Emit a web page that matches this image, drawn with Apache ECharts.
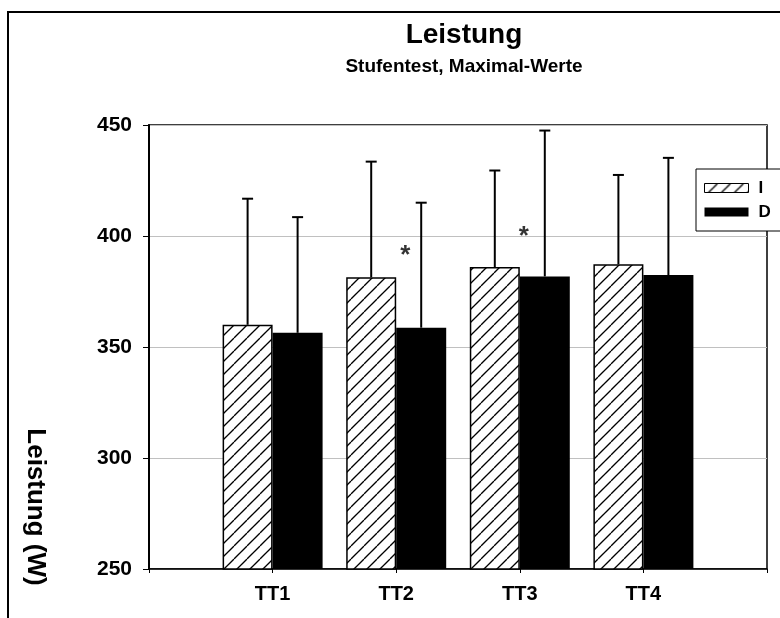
<!DOCTYPE html>
<html>
<head>
<meta charset="utf-8">
<script src="https://cdn.jsdelivr.net/npm/echarts@6/dist/echarts.min.js"></script>
<style>
html,body{margin:0;padding:0;background:#fff;}
#chart{width:780px;height:618px;}
</style>
</head>
<body>
<div id="chart"></div>
<script>
// ---- data ----
const categories = ['TT1', 'TT2', 'TT3', 'TT4'];
const seriesNames = ['I', 'D'];
const valuesI = [360, 381.4, 386, 387.3];
const valuesD = [356.4, 358.7, 381.8, 382.4];
const errTopI = [416.8, 433.5, 429.5, 427.5];
const errTopD = [408.5, 415, 447.5, 435.2];
const yTicks = [250, 300, 350, 400, 450];
const asteriskCats = ['TT2', 'TT3'];
const asteriskVals = [393, 401.5];

// ---- build ----
const FONT = '"Liberation Sans", Arial, sans-serif';
const xCats = [''].concat(categories, ['']);
const pad = arr => [null].concat(arr, [null]);
const BW = 50;
const starOffsets = [[9, 4], [4, 4]];

function hatch() {
  const s = 13;
  const c = document.createElement('canvas');
  c.width = s; c.height = s;
  const g = c.getContext('2d');
  g.fillStyle = '#fff'; g.fillRect(0, 0, s, s);
  g.strokeStyle = '#000'; g.lineWidth = 1.3;
  for (const k of [-s, 0, s]) {
    g.beginPath(); g.moveTo(k, s); g.lineTo(k + s, 0); g.stroke();
  }
  return c;
}
const hatchPattern = { image: hatch(), repeat: 'repeat' };

function errData(vals, tops) {
  return categories.map((c, i) => [i + 1, vals[i], tops[i]]);
}
function errSeries(name, vals, tops, off) {
  return {
    type: 'custom', name: name + '_err', silent: true, z: 5,
    data: errData(vals, tops),
    renderItem: function (params, api) {
      const base = api.coord([api.value(0), api.value(1)]);
      const top = api.coord([api.value(0), api.value(2)]);
      const x = base[0] + off;
      return {
        type: 'group', children: [
          { type: 'line', shape: { x1: x, y1: base[1], x2: x, y2: top[1] }, style: { stroke: '#000', lineWidth: 2 } },
          { type: 'line', shape: { x1: x - 5.5, y1: top[1], x2: x + 5.5, y2: top[1] }, style: { stroke: '#000', lineWidth: 2 } }
        ]
      };
    }
  };
}

const chart = echarts.init(document.getElementById('chart'), null, { renderer: 'canvas' });
chart.setOption({
  animation: false,
  backgroundColor: '#fff',
  title: {
    text: 'Leistung',
    subtext: 'Stufentest, Maximal-Werte',
    left: 459, top: 16, textAlign: 'center', itemGap: 8,
    textStyle: { fontFamily: FONT, fontWeight: 'bold', fontSize: 28, color: '#000' },
    subtextStyle: { fontFamily: FONT, fontWeight: 'bold', fontSize: 19, color: '#000' }
  },
  legend: {
    data: [
      { name: 'I', itemStyle: { borderColor: '#000', borderWidth: 1 } },
      { name: 'D' }
    ],
    orient: 'vertical', left: 696, top: 169,
    icon: 'rect', itemWidth: 44, itemHeight: 9, itemGap: 6,
    padding: [10, 40, 10, 8],
    backgroundColor: '#fff', borderColor: '#000', borderWidth: 1,
    textStyle: { fontFamily: FONT, fontWeight: 'bold', fontSize: 17, color: '#000', lineHeight: 18, padding: [0, 0, 0, 5] }
  },
  grid: { left: 149, right: 13, top: 125, bottom: 49, show: true, borderColor: '#000', borderWidth: 1.5, backgroundColor: 'transparent' },
  xAxis: {
    type: 'category', data: xCats, boundaryGap: false,
    axisLine: { lineStyle: { color: '#000', width: 1.5 } },
    axisTick: { show: true, length: 4, lineStyle: { color: '#000', width: 1 } },
    axisLabel: { fontFamily: FONT, fontWeight: 'bold', fontSize: 20, color: '#000', margin: 15 },
    splitLine: { show: false }
  },
  yAxis: {
    type: 'value', min: yTicks[0], max: yTicks[yTicks.length - 1], interval: 50,
    axisLine: { show: true, lineStyle: { color: '#000', width: 2 } },
    axisTick: { show: true, length: 6, lineStyle: { color: '#000', width: 1 } },
    axisLabel: { fontFamily: FONT, fontWeight: 'bold', fontSize: 21, color: '#000', margin: 17 },
    splitLine: { show: true, lineStyle: { color: '#c0c0c0', width: 1 } }
  },
  graphic: [
    { type: 'rect', shape: { x: 8, y: 12, width: 900, height: 800 }, style: { fill: null, stroke: '#000', lineWidth: 2 }, silent: true, z: 100 },
    { type: 'text', x: 35, y: 507, rotation: -Math.PI / 2,
      style: { text: 'Leistung (W)', fontFamily: FONT, fontWeight: 'bold', fontSize: 26, fill: '#000', textAlign: 'center', textVerticalAlign: 'middle' } }
  ],
  series: [
    { type: 'bar', name: seriesNames[0], data: pad(valuesI), barWidth: BW, barGap: '0%',
      itemStyle: { color: hatchPattern, borderColor: '#000', borderWidth: 1.5 } },
    { type: 'bar', name: seriesNames[1], data: pad(valuesD), barWidth: BW, barGap: '0%',
      itemStyle: { color: '#000', borderColor: '#000', borderWidth: 0 } },
    errSeries('I', valuesI, errTopI, -BW / 2),
    errSeries('D', valuesD, errTopD, BW / 2),
    { type: 'scatter', name: 'sig', symbolSize: 0, z: 6, silent: true,
      data: asteriskCats.map((c, i) => ({ value: [categories.indexOf(c) + 1, asteriskVals[i]], label: { offset: starOffsets[i] } })),
      label: { show: true, formatter: '*', position: 'inside', fontFamily: FONT, fontWeight: 'bold', fontSize: 26, color: '#000' } }
  ]
});
</script>
</body>
</html>
